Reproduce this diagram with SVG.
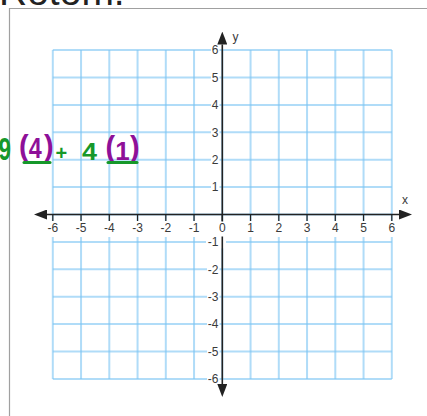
<svg xmlns="http://www.w3.org/2000/svg" width="427" height="416" viewBox="0 0 427 416">
<style>
.grid{fill:none;stroke:#7cc4f4;stroke-opacity:0.6;stroke-width:2}
.axis{stroke:#222;stroke-width:1.6;fill:none}
.tick{stroke:#222;stroke-width:1.2}
.lbl{font-family:"Liberation Sans",Arial,sans-serif;font-size:12px;fill:#3a3a3a}
.xl{text-anchor:middle}
.yl{text-anchor:end}
.bg{fill:#fff}
.hw{font-family:"Liberation Sans",Arial,sans-serif;font-weight:bold}
.g{fill:#16982a}
.p{fill:#8e1098}
.ul{stroke:#16982a;stroke-width:3;stroke-linecap:round}
</style>
<defs>
<marker id="ah" markerUnits="userSpaceOnUse" markerWidth="13" markerHeight="10" refX="0" refY="5" orient="auto-start-reverse">
<path d="M0,0 L13,5 L0,10 z" fill="#222"/>
</marker>
</defs>
<rect width="427" height="416" fill="#fff"/>
<g id="title">
<text x="-1" y="4.5" style="font-family:'Liberation Sans',Arial,sans-serif;font-size:39px;fill:#222">Rotom.</text>
</g>
<g id="frame">
<path d="M9.5,416 V8.5 H427" fill="none" stroke="#a0a0a0" stroke-width="1.2"/>
</g>
<g id="grid">
<path class="grid" d="M52.8,50.1V378.9M81.05,50.1V378.9M109.3,50.1V378.9M137.55,50.1V378.9M165.8,50.1V378.9M194.05,50.1V378.9M222.3,50.1V378.9M250.55,50.1V378.9M278.8,50.1V378.9M307.05,50.1V378.9M335.3,50.1V378.9M363.55,50.1V378.9M391.8,50.1V378.9"/>
<path class="grid" d="M52.8,50.1H391.8M52.8,77.5H391.8M52.8,104.9H391.8M52.8,132.3H391.8M52.8,159.7H391.8M52.8,187.1H391.8M52.8,214.5H391.8M52.8,241.9H391.8M52.8,269.3H391.8M52.8,296.7H391.8M52.8,324.1H391.8M52.8,351.5H391.8M52.8,378.9H391.8"/>
</g>
<g id="label-backgrounds">
<rect class="bg" x="45.8" y="221" width="14" height="16"/>
<rect class="bg" x="74.05" y="221" width="14" height="16"/>
<rect class="bg" x="102.3" y="221" width="14" height="16"/>
<rect class="bg" x="130.55" y="221" width="14" height="16"/>
<rect class="bg" x="158.8" y="221" width="14" height="16"/>
<rect class="bg" x="187.05" y="221" width="14" height="16"/>
<rect class="bg" x="245.55" y="221" width="10" height="16"/>
<rect class="bg" x="273.8" y="221" width="10" height="16"/>
<rect class="bg" x="302.05" y="221" width="10" height="16"/>
<rect class="bg" x="330.3" y="221" width="10" height="16"/>
<rect class="bg" x="358.55" y="221" width="10" height="16"/>
<rect class="bg" x="386.8" y="221" width="10" height="16"/>
<rect class="bg" x="211" y="43.6" width="8.5" height="13"/>
<rect class="bg" x="211" y="71" width="8.5" height="13"/>
<rect class="bg" x="211" y="98.4" width="8.5" height="13"/>
<rect class="bg" x="211" y="125.8" width="8.5" height="13"/>
<rect class="bg" x="211" y="153.2" width="8.5" height="13"/>
<rect class="bg" x="211" y="180.6" width="8.5" height="13"/>
<rect class="bg" x="206" y="235.4" width="20" height="13"/>
<rect class="bg" x="207" y="262.8" width="12.5" height="13"/>
<rect class="bg" x="207" y="290.2" width="12.5" height="13"/>
<rect class="bg" x="207" y="317.6" width="12.5" height="13"/>
<rect class="bg" x="207" y="345" width="12.5" height="13"/>
<rect class="bg" x="207" y="372.4" width="12.5" height="13"/>
</g>
<g id="axes">
<line class="axis" x1="47" y1="214.5" x2="399" y2="214.5" marker-start="url(#ah)" marker-end="url(#ah)"/>
<line class="axis" x1="222.3" y1="384" x2="222.3" y2="44.5" marker-start="url(#ah)" marker-end="url(#ah)"/>
<path class="tick" d="M52.8,214.5V221M81.05,214.5V221M109.3,214.5V221M137.55,214.5V221M165.8,214.5V221M194.05,214.5V221M222.3,214.5V221M250.55,214.5V221M278.8,214.5V221M307.05,214.5V221M335.3,214.5V221M363.55,214.5V221M391.8,214.5V221"/>
<rect class="bg" x="217" y="221.5" width="11" height="15"/>
</g>
<g id="x-labels" class="lbl xl">
<text x="52.8" y="232">-6</text>
<text x="81.05" y="232">-5</text>
<text x="109.3" y="232">-4</text>
<text x="137.55" y="232">-3</text>
<text x="165.8" y="232">-2</text>
<text x="194.05" y="232">-1</text>
<text x="222.3" y="232">0</text>
<text x="250.55" y="232">1</text>
<text x="278.8" y="232">2</text>
<text x="307.05" y="232">3</text>
<text x="335.3" y="232">4</text>
<text x="363.55" y="232">5</text>
<text x="391.8" y="232">6</text>
<text x="405" y="204">x</text>
</g>
<g id="y-labels" class="lbl yl">
<text x="218.5" y="54.4">6</text>
<text x="218.5" y="81.8">5</text>
<text x="218.5" y="109.2">4</text>
<text x="218.5" y="136.6">3</text>
<text x="218.5" y="164">2</text>
<text x="218.5" y="191.4">1</text>
<text x="218.5" y="246.2">-1</text>
<text x="218.5" y="273.6">-2</text>
<text x="218.5" y="301">-3</text>
<text x="218.5" y="328.4">-4</text>
<text x="218.5" y="355.8">-5</text>
<text x="218.5" y="383.2">-6</text>
<text x="238.5" y="41" style="text-anchor:end">y</text>
</g>
<g id="annotation">
<text class="hw g" x="-1.5" y="160" font-size="31" textLength="12.5" lengthAdjust="spacingAndGlyphs">9</text>
<text class="hw p" x="19" y="156" font-size="29">(</text>
<text class="hw p" x="28.7" y="158" font-size="29" textLength="13" lengthAdjust="spacingAndGlyphs">4</text>
<text class="hw p" x="44" y="156" font-size="29">)</text>
<line class="ul" x1="24" y1="162.5" x2="50" y2="162.5"/>
<text class="hw g" x="55.5" y="160" font-size="20">+</text>
<text class="hw g" x="82" y="160" font-size="24" textLength="15" lengthAdjust="spacingAndGlyphs">4</text>
<text class="hw p" x="105.5" y="157" font-size="29">(</text>
<text class="hw p" x="115.2" y="160" font-size="26">1</text>
<text class="hw p" x="130" y="157" font-size="29">)</text>
<line class="ul" x1="108" y1="162.5" x2="137" y2="162.5"/>
</g>
</svg>
